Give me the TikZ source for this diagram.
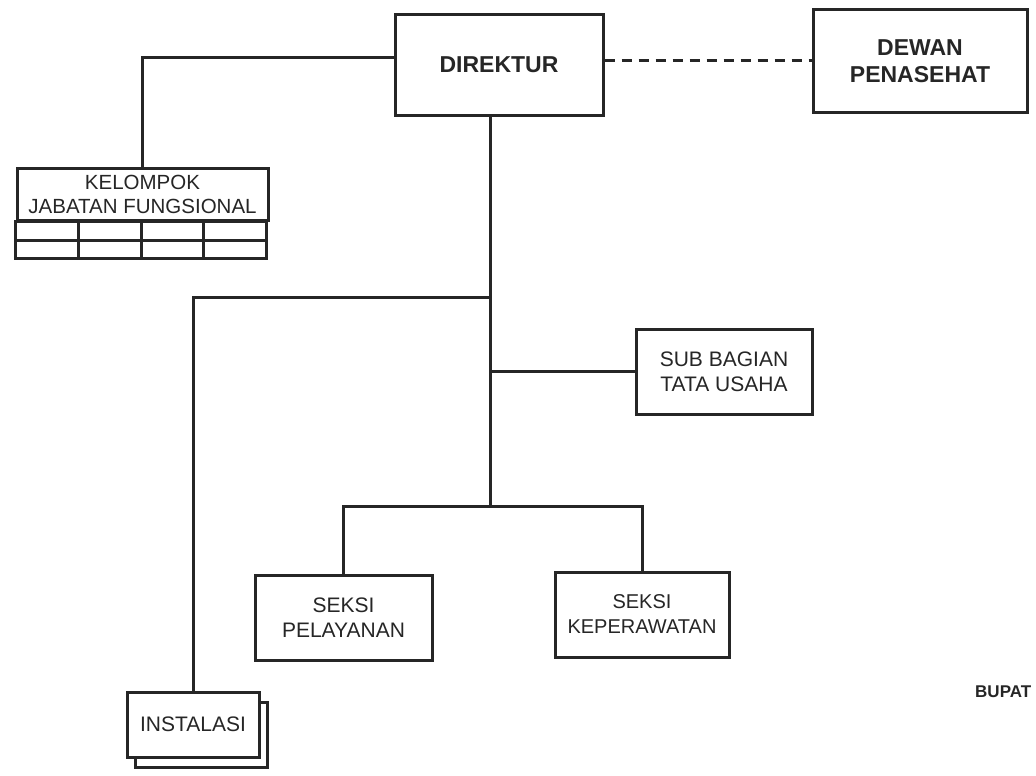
\documentclass[tikz,border=0pt]{standalone}
\usepackage{fontspec}
\setmainfont{Liberation Sans}
\usetikzlibrary{calc}
\usetikzlibrary{shadows}
\colorlet{ink}{black!85}
\tikzstyle{unit}=[draw=ink,text=ink,line width=3pt,fill=white,align=center,inner sep=0pt,font=\fontsize{21}{25}\selectfont]
\tikzstyle{head}=[unit,font=\bfseries\fontsize{23}{27}\selectfont]
\tikzstyle{link}=[draw=ink,line width=3pt]
\tikzstyle{advice}=[link,dash pattern=on 10pt off 7pt]
\tikzstyle{stack}=[copy shadow={shadow xshift=8pt,shadow yshift=-10pt,draw=ink,fill=white,line width=3pt}]

\begin{document}
\begin{tikzpicture}[x=1pt,y=-1pt]
	\useasboundingbox (0,0) rectangle (1036,776);
	\node[head,minimum width=208pt,minimum height=100pt] (dir)   at (499,65)    {DIREKTUR};
	\node[head,minimum width=214pt,minimum height=102pt] (dewan) at (920,61)    {DEWAN\\PENASEHAT};
	\node[unit,minimum width=251pt,minimum height=52pt,font=\fontsize{20.5}{24}\selectfont] (kjf) at (142.5,194) {KELOMPOK\\JABATAN FUNGSIONAL};
	\node[unit,minimum width=176pt,minimum height=85pt]  (sub)   at (724,371.5) {SUB BAGIAN\\TATA USAHA};
	\node[unit,minimum width=177pt,minimum height=85pt]  (pel)   at (343.5,617.5) {SEKSI\\PELAYANAN};
	\node[unit,minimum width=174pt,minimum height=85pt,font=\fontsize{20}{25}\selectfont] (kep) at (642,614.5) {SEKSI\\KEPERAWATAN};
	\node[unit,stack,minimum width=132pt,minimum height=65pt] (inst) at (193,724.5) {INSTALASI};
	\node[text=ink,font=\bfseries\fontsize{17}{20}\selectfont,anchor=west,inner sep=0pt] (bup) at (975,692) {BUPAT};
	\draw[link] (kjf.south west) rectangle ++(251,37);
	\draw[link] ($(kjf.south west)+(0,18.5)$) -- ++(251,0);
	\foreach \i in {1,2,3}
		\draw[link] ($(kjf.south west)+(\i*62.75,0)$) -- ++(0,37);
	\coordinate (trunk) at ([xshift=-9pt]dir.south);
	\coordinate (seksi) at ($(trunk)+(0,390)$);
	\draw[link] ([yshift=7pt]dir.west) -| (kjf.north);
	\draw[advice] (dir.east |- dewan.west) -- (dewan.west);
	\draw[link] (trunk) -- (seksi);
	\draw[link] ($(trunk)+(0,181)$) -| (inst.north);
	\draw[link] (trunk |- sub.west) -- (sub.west);
	\draw[link] (pel.north) |- (seksi) -| (kep.north);
\end{tikzpicture}
\end{document}
